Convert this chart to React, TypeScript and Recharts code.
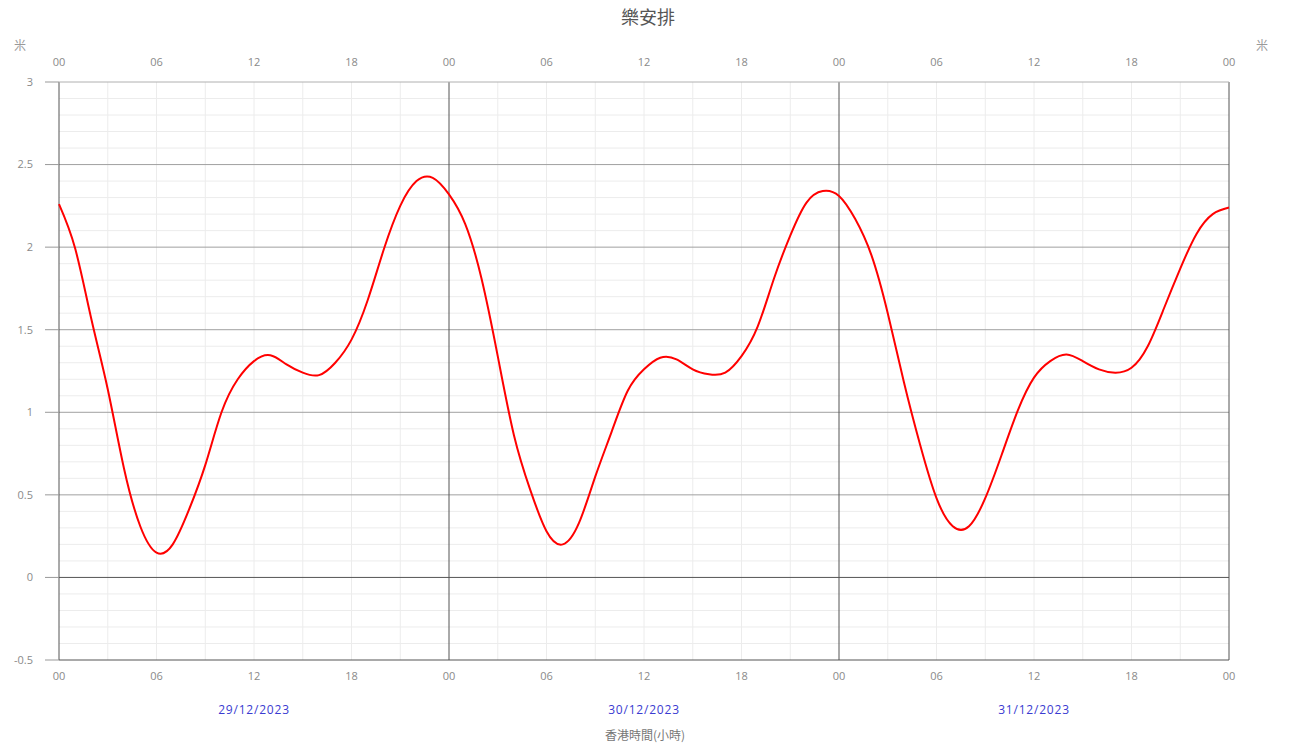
import { CartesianGrid, Line, LineChart, ReferenceLine, XAxis, YAxis } from 'recharts';

// hourly tide height (m), 29/12/2023 00:00 -> 01/01/2024 00:00
const tideLevels = [
  2.26, 1.99, 1.56, 1.14, 0.66, 0.31, 0.15, 0.2, 0.41, 0.68, 1.0, 1.2,
  1.31, 1.345, 1.29, 1.24, 1.225, 1.3, 1.44, 1.68, 1.99, 2.25, 2.4, 2.42,
  2.32, 2.14, 1.81, 1.34, 0.86, 0.53, 0.28, 0.2, 0.33, 0.61, 0.88, 1.13,
  1.26, 1.33, 1.32, 1.26, 1.23, 1.24, 1.34, 1.52, 1.81, 2.07, 2.27, 2.34,
  2.31, 2.17, 1.95, 1.6, 1.18, 0.8, 0.48, 0.31, 0.31, 0.48, 0.74, 1.01,
  1.21, 1.31, 1.35, 1.31, 1.26, 1.24, 1.27, 1.4, 1.63, 1.87, 2.08, 2.2, 2.24,
];
const hourTicks = [0, 6, 12, 18, 24, 30, 36, 42, 48, 54, 60, 66, 72];
const dayStarts = [0, 24, 48, 72];
const dateTicks = [12, 36, 60];
const dateLabels = ['29/12/2023', '30/12/2023', '31/12/2023'];
const yTicks = [-0.5, 0, 0.5, 1, 1.5, 2, 2.5, 3];
const majorLines = [0.5, 1, 1.5, 2, 2.5];
const minorY = [-0.4, -0.3, -0.2, -0.1, 0.1, 0.2, 0.3, 0.4, 0.6, 0.7, 0.8, 0.9, 1.1, 1.2, 1.3, 1.4, 1.6, 1.7, 1.8, 1.9, 2.1, 2.2, 2.3, 2.4, 2.6, 2.7, 2.8, 2.9];
const minorX = [3, 6, 9, 12, 15, 18, 21, 27, 30, 33, 36, 39, 42, 45, 51, 54, 57, 60, 63, 66, 69];

const data = tideLevels.map((v, i) => ({ h: i, level: v }));

const tickStyle = { fill: '#8a8a8a', fontSize: 11, fontFamily: 'Open Sans' };
const hh = (h: number) => String(h % 24).padStart(2, '0');

export default function App() {
  return (
    <div style={{ position: 'absolute', left: 0, top: 0, width: 1296, height: 749, background: '#fff', fontFamily: 'Open Sans, "Noto Sans CJK TC", sans-serif' }}>
      <div style={{ position: 'absolute', left: 0, width: 1296, top: 3, textAlign: 'center', fontSize: 18, color: '#555', fontFamily: '"Noto Sans CJK TC"' }}>樂安排</div>
      <div style={{ position: 'absolute', left: 14, top: 36, fontSize: 12, color: '#999', fontFamily: '"Noto Sans CJK TC"' }}>米</div>
      <div style={{ position: 'absolute', left: 1256, top: 36, fontSize: 12, color: '#999', fontFamily: '"Noto Sans CJK TC"' }}>米</div>
      <div style={{ position: 'absolute', left: 0, width: 1290, top: 726, textAlign: 'center', fontSize: 12, color: '#777', fontFamily: '"Noto Sans CJK TC"' }}>香港時間(小時)</div>
      <LineChart width={1296} height={749} data={data} margin={{ top: 0, right: 0, bottom: 0, left: 0 }}>
        <CartesianGrid xAxisId="bottom" yAxisId="left" stroke="#ececec" horizontalValues={minorY} verticalValues={minorX} />
        <XAxis xAxisId="bottom" dataKey="h" type="number" domain={[0, 72]} ticks={hourTicks} tickFormatter={hh} orientation="bottom" height={30} tickLine={false} tickSize={0} tickMargin={12} axisLine={{ stroke: '#555' }} tick={tickStyle} interval={0} />
        <XAxis xAxisId="date" dataKey="h" type="number" domain={[0, 72]} ticks={dateTicks} tickFormatter={(h: number) => dateLabels[dateTicks.indexOf(h)]} orientation="bottom" height={59} tickLine={false} tickSize={0} tickMargin={15} axisLine={false} tick={{ fill: '#3b3bd1', fontSize: 12, fontFamily: 'Open Sans', letterSpacing: 0.8 }} interval={0} />
        <XAxis xAxisId="top" dataKey="h" type="number" domain={[0, 72]} ticks={hourTicks} tickFormatter={hh} orientation="top" height={82} tickLine={false} tickSize={0} tickMargin={16} axisLine={{ stroke: '#b0b0b0' }} tick={tickStyle} interval={0} />
        <YAxis yAxisId="left" type="number" domain={[-0.5, 3]} ticks={yTicks} width={59} axisLine={false} tickLine={{ stroke: '#999' }} tickSize={14} tickMargin={12} tick={tickStyle} interval={0} />
        <YAxis yAxisId="right" orientation="right" type="number" domain={[-0.5, 3]} ticks={yTicks} width={67} axisLine={false} tickLine={{ stroke: '#999' }} tickSize={13} tickMargin={13} tick={{ ...tickStyle, textAnchor: 'start' }} interval={0} />
        {majorLines.map(v => (
          <ReferenceLine key={v} xAxisId="bottom" yAxisId="left" y={v} stroke="#a0a0a0" />
        ))}
        <ReferenceLine xAxisId="bottom" yAxisId="left" y={0} stroke="#555" />
        {dayStarts.map(d => (
          <ReferenceLine key={d} xAxisId="bottom" yAxisId="left" x={d} stroke="#555" />
        ))}
        <Line xAxisId="bottom" yAxisId="left" type="natural" dataKey="level" stroke="#ff0000" strokeWidth={2} dot={false} isAnimationActive={false} />
      </LineChart>
    </div>
  );
}
